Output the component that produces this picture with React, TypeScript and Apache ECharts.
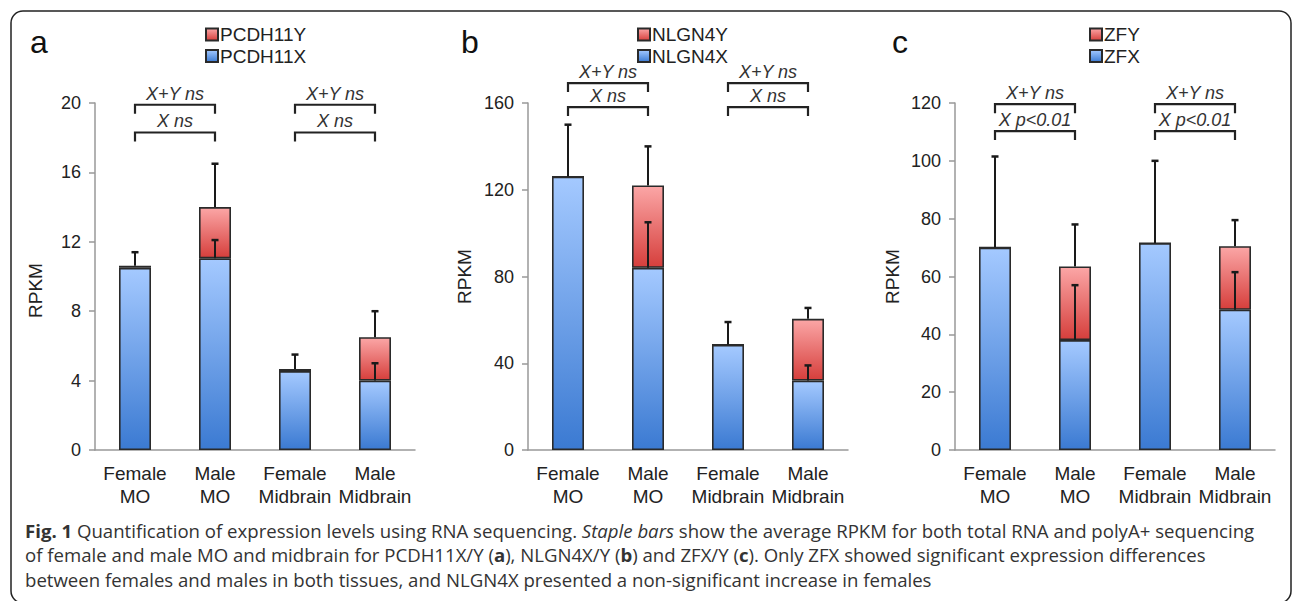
import React, { useEffect, useRef } from 'react';
import * as echarts from 'echarts';

const FONT = '"Liberation Sans", Arial, Helvetica, sans-serif';
const CAP_FONT = '"Open Sans", "Noto Sans", sans-serif';

const categories = ['Female\nMO', 'Male\nMO', 'Female\nMidbrain', 'Male\nMidbrain'];
const panelLetters = ['a', 'b', 'c'];
const xGeneNames = ['PCDH11X', 'NLGN4X', 'ZFX'];
const yGeneNames = ['PCDH11Y', 'NLGN4Y', 'ZFY'];

// panel a: PCDH11X/Y
const pcdh11x = [10.5, 11.05, 4.55, 4.0];
const pcdh11y = [0.12, 2.95, 0.12, 2.5];
const pcdhErrTotal = [11.4, 16.5, 5.5, 8.0];
const pcdhErrX = [null, 12.1, null, 5.0];

// panel b: NLGN4X/Y
const nlgn4x = [126, 84, 48.5, 32];
const nlgn4y = [0, 38, 0, 28.5];
const nlgnErrTotal = [150, 140, 59, 65.5];
const nlgnErrX = [null, 105, null, 39];

// panel c: ZFX/Y
const zfx = [70, 38, 71.5, 48.5];
const zfy = [0, 25.5, 0, 22];
const zfErrTotal = [101.5, 78, 100, 79.5];
const zfErrX = [null, 57, null, 61.5];

const xValues = [pcdh11x, nlgn4x, zfx];
const yValues = [pcdh11y, nlgn4y, zfy];
const errTotals = [pcdhErrTotal, nlgnErrTotal, zfErrTotal];
const errXs = [pcdhErrX, nlgnErrX, zfErrX];

const axisMax = [20, 160, 120];
const axisInterval = [4, 40, 20];

// significance brackets: category pairs, levels (upper, lower), labels
const bracketPairs = [[0, 1], [2, 3]];
const bracketLevels = [[19.9, 18.3], [169.2, 158.1], [119.6, 110.3]];
const bracketLabels = [
  ['X+Y ns', 'X ns'],
  ['X+Y ns', 'X ns'],
  ['X+Y ns', 'X p<0.01'],
];

const captionLines = [
  '{b|Fig. 1} Quantification of expression levels using RNA sequencing. {i|Staple bars} show the average RPKM for both total RNA and polyA+ sequencing',
  'of female and male MO and midbrain for PCDH11X/Y ({b|a}), NLGN4X/Y ({b|b}) and ZFX/Y ({b|c}). Only ZFX showed significant expression differences',
  'between females and males in both tissues, and NLGN4X presented a non-significant increase in females',
];

// layout (pixels)
const gridLefts = [95, 528, 955];
const gridWidth = 320;
const gridTop = 103;
const gridHeight = 347;
const legendLefts = [205, 637, 1089];
const letterXs = [30, 461, 892];
const rpkmGaps = [50, 54, 53];
const rpkmShift = [28, 0, 0];
const CAP_SIZE = 18.6;

const blueGrad = () =>
  new echarts.graphic.LinearGradient(0, 0, 0, 1, [
    { offset: 0, color: '#a4c9ff' },
    { offset: 1, color: '#3b7ad2' },
  ]);
const redGrad = () =>
  new echarts.graphic.LinearGradient(0, 0, 0, 1, [
    { offset: 0, color: '#fba6a6' },
    { offset: 1, color: '#d63f3c' },
  ]);

function buildOption() {
  const grid: any[] = [];
  const xAxis: any[] = [];
  const yAxis: any[] = [];
  const series: any[] = [];
  const legend: any[] = [];
  const graphic: any[] = [];

  for (let p = 0; p < 3; p++) {
    grid.push({ left: gridLefts[p], top: gridTop, width: gridWidth, height: gridHeight });
    xAxis.push({
      type: 'category',
      gridIndex: p,
      data: categories,
      axisLine: { lineStyle: { color: '#999', width: 1.5 } },
      axisTick: { length: 6, lineStyle: { color: '#999', width: 1.5 } },
      axisLabel: {
        interval: 0,
        margin: 12,
        fontSize: 19,
        lineHeight: 23,
        color: '#222',
        fontFamily: FONT,
      },
    });
    yAxis.push({
      type: 'value',
      gridIndex: p,
      min: 0,
      max: axisMax[p],
      interval: axisInterval[p],
      name: 'RPKM',
      nameLocation: 'middle',
      nameGap: rpkmGaps[p],
      nameTextStyle: { fontSize: 19, color: '#222', fontFamily: FONT, padding: [0, rpkmShift[p], 0, 0] },
      axisLine: { show: true, lineStyle: { color: '#999', width: 1.5 } },
      axisTick: { show: true, length: 6, lineStyle: { color: '#999', width: 1.5 } },
      splitLine: { show: false },
      axisLabel: { margin: 14, fontSize: 18, color: '#222', fontFamily: FONT },
    });

    series.push({
      type: 'bar',
      name: xGeneNames[p],
      xAxisIndex: p,
      yAxisIndex: p,
      stack: 'stack' + p,
      barWidth: 32,
      data: xValues[p],
      itemStyle: { color: blueGrad(), borderColor: '#2a2a2a', borderWidth: 1.6 },
    });
    series.push({
      type: 'bar',
      name: yGeneNames[p],
      xAxisIndex: p,
      yAxisIndex: p,
      stack: 'stack' + p,
      barWidth: 32,
      data: yValues[p],
      itemStyle: { color: redGrad(), borderColor: '#2a2a2a', borderWidth: 1.6 },
    });

    const errData: number[][] = [];
    for (let i = 0; i < categories.length; i++) {
      const total = xValues[p][i] + yValues[p][i];
      errData.push([i, total, errTotals[p][i]]);
      const ex = errXs[p][i];
      if (ex !== null && ex !== undefined) errData.push([i, xValues[p][i], ex]);
    }
    series.push({
      type: 'custom',
      xAxisIndex: p,
      yAxisIndex: p,
      z: 5,
      silent: true,
      data: errData,
      renderItem: (params: any, api: any) => {
        const b = api.coord([api.value(0), api.value(1)]);
        const t = api.coord([api.value(0), api.value(2)]);
        const cap = 3.5;
        return {
          type: 'group',
          children: [
            { type: 'line', shape: { x1: b[0], y1: b[1], x2: t[0], y2: t[1] }, style: { stroke: '#1a1a1a', lineWidth: 2 } },
            { type: 'line', shape: { x1: t[0] - cap, y1: t[1], x2: t[0] + cap, y2: t[1] }, style: { stroke: '#1a1a1a', lineWidth: 2.5 } },
          ],
        };
      },
    });

    const brData: number[][] = [];
    const brLabels: string[] = [];
    bracketPairs.forEach((pair) => {
      bracketLevels[p].forEach((lvl, k) => {
        brData.push([pair[0], pair[1], lvl]);
        brLabels.push(bracketLabels[p][k]);
      });
    });
    series.push({
      type: 'custom',
      xAxisIndex: p,
      yAxisIndex: p,
      z: 5,
      silent: true,
      clip: false,
      encode: { x: [0, 1], y: 2 },
      data: brData,
      renderItem: (params: any, api: any) => {
        const p1 = api.coord([api.value(0), api.value(2)]);
        const p2 = api.coord([api.value(1), api.value(2)]);
        const leg = 9;
        return {
          type: 'group',
          children: [
            {
              type: 'polyline',
              shape: { points: [[p1[0], p1[1] + leg], [p1[0], p1[1]], [p2[0], p2[1]], [p2[0], p2[1] + leg]] },
              style: { stroke: '#222', lineWidth: 2.2, fill: 'none' },
            },
            {
              type: 'text',
              x: (p1[0] + p2[0]) / 2,
              y: p1[1] - 11,
              style: {
                text: brLabels[params.dataIndex],
                align: 'center',
                verticalAlign: 'middle',
                fontSize: 18,
                fontStyle: 'italic',
                fontFamily: FONT,
                fill: '#333',
              },
            },
          ],
        };
      },
    });

    legend.push({
      orient: 'vertical',
      left: legendLefts[p],
      top: 25,
      padding: 0,
      itemGap: 2.5,
      itemWidth: 12,
      itemHeight: 12,
      icon: 'rect',
      selectedMode: false,
      data: [yGeneNames[p], xGeneNames[p]],
      textStyle: { fontSize: 19, color: '#222', fontFamily: FONT, padding: [0, 0, 0, -3] },
    });

    graphic.push({
      type: 'text',
      x: letterXs[p],
      y: 42,
      style: { text: panelLetters[p], fontSize: 32, fontFamily: FONT, fill: '#111', verticalAlign: 'middle' },
    });
  }

  graphic.push({
    type: 'rect',
    shape: { x: 11, y: 11, width: 1280, height: 592, r: 12 },
    style: { fill: 'none', stroke: '#222', lineWidth: 1.5 },
    silent: true,
  });

  const capBaselines = [537, 561.5, 586];
  captionLines.forEach((line, i) => {
    graphic.push({
      type: 'text',
      x: 25,
      y: capBaselines[i] - 7,
      style: {
        text: line,
        fontSize: CAP_SIZE,
        fontFamily: CAP_FONT,
        fill: '#333',
        verticalAlign: 'middle',
        rich: {
          b: { fontSize: CAP_SIZE, fontFamily: CAP_FONT, fontWeight: 'bold', fill: '#333' },
          i: { fontSize: CAP_SIZE, fontFamily: CAP_FONT, fontStyle: 'italic', fill: '#333' },
        },
      },
    });
  });

  return {
    animation: false,
    backgroundColor: '#fff',
    grid,
    xAxis,
    yAxis,
    legend,
    series,
    graphic,
  };
}

export default function App() {
  const ref = useRef<HTMLDivElement>(null);
  useEffect(() => {
    document.body.style.margin = '0';
    if (!ref.current) return;
    const chart = echarts.init(ref.current, undefined, { renderer: 'svg' });
    chart.setOption(buildOption() as any);
    return () => chart.dispose();
  }, []);
  return <div ref={ref} style={{ width: 1292, height: 601 }} />;
}
